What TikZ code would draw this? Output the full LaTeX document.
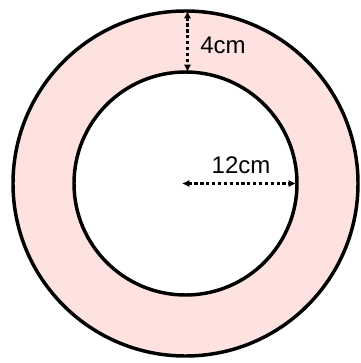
\documentclass[tikz,border=0pt]{standalone}
\usepackage{fontspec}
\setmainfont{Liberation Sans}
\usetikzlibrary{arrows.meta}
\definecolor{ringpink}{RGB}{253,226,223}
\tikzset{
  ring/.style={line width=2.6pt, draw=black},
  dimarrow/.style={line width=2pt, dash pattern=on 2.4pt off 2pt, {Latex[length=5.5pt,width=5.5pt]}-{Latex[length=5.5pt,width=5.5pt]}},
  lbl/.style={font=\fontsize{18}{20}\selectfont, inner sep=0pt}
}
\begin{document}
\begin{tikzpicture}[x=0.75pt,y=-0.75pt]
\useasboundingbox (0,0) rectangle (360,363);
\coordinate (c) at (185.5,183.5);
\fill[ringpink, even odd rule] (c) circle[radius=172.5] (c) circle[radius=111.5];
\draw[ring] (c) circle[radius=172.5];
\draw[ring] (c) circle[radius=111.5];
\coordinate (t1) at (187.5,11);
\coordinate (t2) at (187.5,72);
\draw[dimarrow] (t1) -- (t2);
\node[lbl] (l4) at (223,45) {4cm};
\coordinate (h1) at (182,183.5);
\coordinate (h2) at (296,183.5);
\draw[dimarrow] (h1) -- (h2);
\node[lbl] (l12) at (241,165) {12cm};
\end{tikzpicture}
\end{document}
